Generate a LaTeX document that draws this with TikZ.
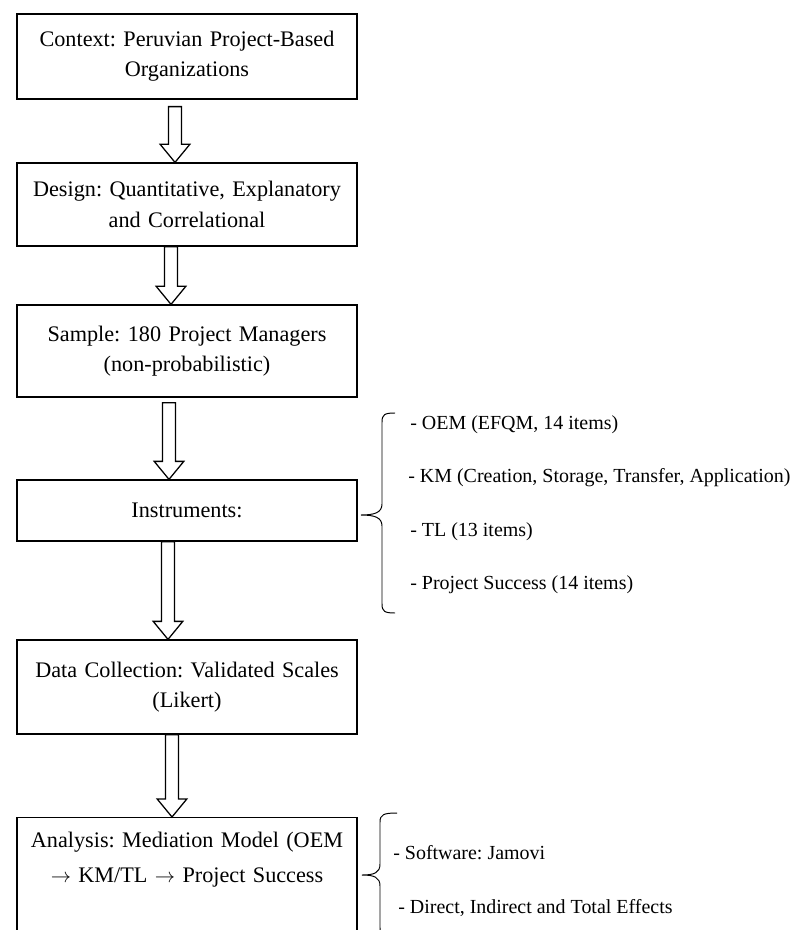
\documentclass[tikz,border=0pt]{standalone}
\usepackage{fontspec}
\setmainfont{Liberation Serif}
\usetikzlibrary{positioning,calc}
\frenchspacing

% hollow block arrow: #1 from, #2 to, #3 x of its axis, #4 gap below #1
\newcommand{\hollowarrow}[4]{%
  \coordinate (ha-s) at ($(#3,0 |- #1.south)+(0,-#4)$);
  \coordinate (ha-t) at (#3,0 |- #2.north);
  \draw[hollow] ($(ha-s)+(-0.16,0)$) -- ($(ha-t)+(-0.16,0.45)$) -- ($(ha-t)+(-0.37,0.45)$) -- (ha-t)
    -- ($(ha-t)+(0.37,0.45)$) -- ($(ha-t)+(0.16,0.45)$) -- ($(ha-s)+(0.16,0)$) -- cycle;
}

\begin{document}
\begin{tikzpicture}[
  stepbox/.style={draw=black,line width=0.9pt,fill=white,inner sep=0.2cm,text width=8.1cm,align=center,font=\fontsize{15.8}{21.5}\selectfont},
  boxtext/.style={inner sep=0pt,text width=8.1cm,align=center,font=\fontsize{15.8}{21.5}\selectfont},
  itemtext/.style={inner sep=0pt,anchor=west,font=\fontsize{14.2}{17}\selectfont},
  hollow/.style={draw=black,line width=0.9pt,fill=white,line join=miter},
  bracel/.style={draw=black,line width=0.7pt}
]
\fill[white] (0,0) rectangle (19.875,-23.25);
\useasboundingbox (0,0) rectangle (19.875,-23.25);
\clip (0,0) rectangle (19.875,-23.25);

% LEFT: the method steps
\node[stepbox,minimum height=2.125cm] (context) at (4.675,-1.4125) {Context: Peruvian Project-Based\\Organizations};
\node[stepbox,minimum height=2.075cm] (design) at (4.675,-5.1125) {Design: Quantitative, Explanatory\\and Correlational};
\node[stepbox,minimum height=2.3cm] (sample) at (4.675,-8.775) {Sample: 180 Project Managers\\(non-probabilistic)};
\node[stepbox,minimum height=1.525cm] (instr) at (4.675,-12.7625) {Instruments:};
\node[stepbox,minimum height=2.35cm] (collect) at (4.675,-17.175) {Data Collection: Validated Scales\\(Likert)};
\node[stepbox,minimum height=3.6cm,anchor=north] (analysis) at (4.675,-20.425) {};
\node[boxtext,anchor=north] (analysistext) at ($(analysis.north)+(0,-0.36)$) {Analysis: Mediation Model (OEM\\[0.12cm]$\rightarrow$ KM/TL $\rightarrow$ Project Success};

\hollowarrow{context}{design}{4.375}{0.175}
\hollowarrow{design}{sample}{4.275}{0}
\hollowarrow{sample}{instr}{4.225}{0.125}
\hollowarrow{instr}{collect}{4.2}{0}
\hollowarrow{collect}{analysis}{4.3}{0}

% RIGHT: instruments
\draw[bracel] (9.875,-10.325) .. controls (9.62,-10.325) and (9.55,-10.36) .. (9.55,-10.55)
  -- (9.55,-12.6) .. controls (9.55,-12.82) and (9.35,-12.875) .. (9.025,-12.875)
  .. controls (9.35,-12.875) and (9.55,-12.93) .. (9.55,-13.15)
  -- (9.55,-15.1) .. controls (9.55,-15.29) and (9.62,-15.325) .. (9.875,-15.325);
\node[itemtext] (oem) at (10.25,-10.625) {- OEM (EFQM, 14 items)};
\node[itemtext] (km) at (10.2,-11.95) {- KM (Creation, Storage, Transfer, Application)};
\node[itemtext] (tl) at (10.25,-13.3) {- TL (13 items)};
\node[itemtext] (ps) at (10.25,-14.625) {- Project Success (14 items)};

% RIGHT: analysis
\draw[bracel] (9.925,-20.325) .. controls (9.6,-20.325) and (9.5,-20.36) .. (9.5,-20.55)
  -- (9.5,-21.6) .. controls (9.5,-21.82) and (9.35,-21.875) .. (9.05,-21.875)
  .. controls (9.35,-21.875) and (9.5,-21.93) .. (9.5,-22.15)
  -- (9.5,-23.2) .. controls (9.5,-23.39) and (9.6,-23.425) .. (9.925,-23.425);
\node[itemtext] (soft) at (9.825,-21.325) {- Software: Jamovi};
\node[itemtext] (effects) at (9.95,-22.7) {- Direct, Indirect and Total Effects};
\end{tikzpicture}
\end{document}
